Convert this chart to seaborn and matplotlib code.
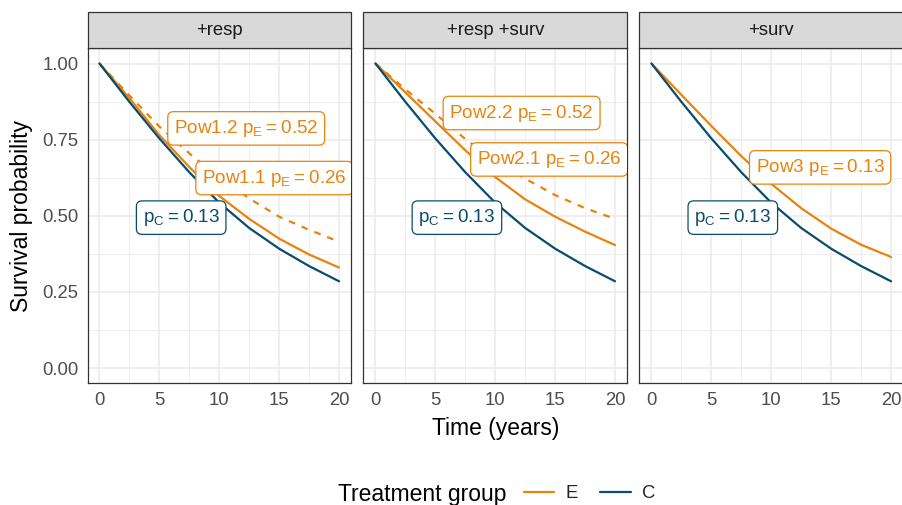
import numpy as np
import pandas as pd
import matplotlib
matplotlib.use("Agg")
import matplotlib.pyplot as plt
import seaborn as sns
from matplotlib.patches import Rectangle
from matplotlib.lines import Line2D

# ---------------- data ----------------
time = [0, 2.5, 5, 7.5, 10, 12.5, 15, 17.5, 20]
surv_C = [1.0, 0.874, 0.754, 0.643, 0.543, 0.460, 0.392, 0.335, 0.285]
surv_pow11 = [1.0, 0.886, 0.765, 0.660, 0.565, 0.490, 0.425, 0.373, 0.330]
surv_pow12 = [1.0, 0.895, 0.793, 0.705, 0.625, 0.557, 0.497, 0.454, 0.415]
surv_pow21 = [1.0, 0.905, 0.810, 0.715, 0.627, 0.554, 0.497, 0.448, 0.404]
surv_pow22 = [1.0, 0.915, 0.835, 0.752, 0.680, 0.622, 0.568, 0.525, 0.490]
surv_pow3 = [1.0, 0.897, 0.795, 0.696, 0.605, 0.525, 0.458, 0.405, 0.365]

panels = ["+resp", "+resp +surv", "+surv"]
groups = ["E", "C"]
y_ticks = [0.0, 0.25, 0.5, 0.75, 1.0]
y_ticklabels = ["0.00", "0.25", "0.50", "0.75", "1.00"]
x_ticks = [0, 5, 10, 15, 20]

# scenario: (panel, scenario name, group, linetype, values)
scenarios = [
    ("+resp", "Pow1.1", "E", "solid", surv_pow11),
    ("+resp", "Pow1.2", "E", "dashed", surv_pow12),
    ("+resp", "C1", "C", "solid", surv_C),
    ("+resp +surv", "Pow2.1", "E", "solid", surv_pow21),
    ("+resp +surv", "Pow2.2", "E", "dashed", surv_pow22),
    ("+resp +surv", "C2", "C", "solid", surv_C),
    ("+surv", "Pow3", "E", "solid", surv_pow3),
    ("+surv", "C3", "C", "solid", surv_C),
]

# labels: (panel, text, group, x, y)
labels = [
    ("+resp", r"Pow1.2 $p_E = 0.52$", "E", 12.25, 0.787),
    ("+resp", r"Pow1.1 $p_E = 0.26$", "E", 14.6, 0.624),
    ("+resp", r"$p_C = 0.13$", "C", 6.82, 0.494),
    ("+resp +surv", r"Pow2.2 $p_E = 0.52$", "E", 12.2, 0.8375),
    ("+resp +surv", r"Pow2.1 $p_E = 0.26$", "E", 14.5, 0.685),
    ("+resp +surv", r"$p_C = 0.13$", "C", 6.8, 0.494),
    ("+surv", r"Pow3 $p_E = 0.13$", "E", 14.08, 0.659),
    ("+surv", r"$p_C = 0.13$", "C", 6.79, 0.494),
]

rows = []
for panel, name, grp, lt, vals in scenarios:
    for t, v in zip(time, vals):
        rows.append(dict(panel=panel, scenario=name, group=grp, ltype=lt, time=t, surv=v))
df = pd.DataFrame(rows)

# ---------------- style ----------------
sns.set_style("white")
plt.rcParams["font.family"] = ["Liberation Sans", "DejaVu Sans"]
plt.rcParams["mathtext.fontset"] = "custom"
plt.rcParams["mathtext.rm"] = "Liberation Sans"
plt.rcParams["mathtext.default"] = "regular"

ORANGE = "#E8830E"
BLUE = "#0A4C6C"
palette = {"E": ORANGE, "C": BLUE}
GRID = "#EBEBEB"
DARK = "#333333"

W, H = 903, 505
fig = plt.figure(figsize=(W / 100, H / 100), dpi=100)

def rect(x0, x1, y0, y1):
    return [x0 / W, 1 - y1 / H, (x1 - x0) / W, (y1 - y0) / H]

lefts = [87.5, 363.5, 639.5]
pw = 263.5
top, bottom = 48.3, 383.3
strip_h = 36.3
panel_h = bottom - top
LW = 1.6

for i, panel in enumerate(panels):
    ax = fig.add_axes(rect(lefts[i], lefts[i] + pw, top, bottom))
    sub = df[df.panel == panel]
    subE = sub[sub.group == "E"]
    subC = sub[sub.group == "C"]
    sns.lineplot(data=subE, x="time", y="surv", hue="group", style="ltype",
                 units="scenario", estimator=None, palette=palette,
                 dashes={"solid": "", "dashed": (3, 3.2)}, linewidth=LW,
                 legend=False, ax=ax, zorder=3)
    sns.lineplot(data=subC, x="time", y="surv", hue="group",
                 units="scenario", estimator=None, palette=palette,
                 linewidth=LW, legend=False, ax=ax, zorder=3)

    ax.set_xlim(-1, 21)
    ax.set_ylim(-0.05, 1.05)
    ax.set_xticks(x_ticks)
    ax.set_xticks([2.5, 7.5, 12.5, 17.5], minor=True)
    ax.set_yticks(y_ticks)
    ax.set_yticks([0.125, 0.375, 0.625, 0.875], minor=True)
    ax.set_yticklabels(y_ticklabels)
    ax.grid(which="major", color=GRID, linewidth=1.1)
    ax.grid(which="minor", color=GRID, linewidth=0.55)
    ax.set_axisbelow(True)
    ax.set_xlabel("")
    ax.set_ylabel("")
    for s in ax.spines.values():
        s.set_color(DARK)
        s.set_linewidth(0.9)
    ax.tick_params(which="major", direction="out", length=3, width=0.9,
                   color=DARK, labelsize=13.3, labelcolor="#4D4D4D", pad=3.5)
    ax.tick_params(which="minor", length=0)
    if i > 0:
        ax.tick_params(axis="y", which="both", left=False, labelleft=False)

    # strip
    ax.add_patch(Rectangle((0, 1), 1, strip_h / panel_h, transform=ax.transAxes,
                           facecolor="#D9D9D9", edgecolor=DARK, linewidth=0.9,
                           clip_on=False, zorder=6))
    ax.text(0.5, 1 + (strip_h / 2) / panel_h, panel, transform=ax.transAxes,
            ha="center", va="center", fontsize=13.3, color="#1A1A1A", zorder=7)

    for p, txt, grp, x, y in labels:
        if p != panel:
            continue
        c = palette[grp]
        ax.text(x, y, txt, color=c, fontsize=13.6, ha="center", va="center",
                zorder=5, clip_on=True,
                bbox=dict(boxstyle="round,pad=0.33,rounding_size=0.3",
                          fc="white", ec=c, lw=0.9))

fig.text(496 / W, 1 - 428 / H, "Time (years)", ha="center", va="center",
         fontsize=16.5, color="black")
fig.text(22 / W, 1 - 216 / H, "Survival probability", ha="center", va="center",
         rotation=90, fontsize=16.5, color="black")

fig.text(338 / W, 1 - 494 / H, "Treatment group", ha="left", va="center",
         fontsize=16.5, color="black")
handles = [Line2D([], [], color=palette[g], lw=LW) for g in groups]
fig.legend(handles=handles, labels=groups, ncol=2, loc="center left",
           bbox_to_anchor=(524 / W, 1 - 494 / H), frameon=False, fontsize=13.3,
           handlelength=1.65, handletextpad=0.62, columnspacing=1.2,
           borderpad=0, borderaxespad=0)

fig.savefig("out.png", dpi=100)
